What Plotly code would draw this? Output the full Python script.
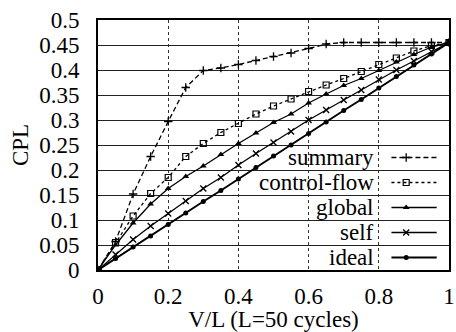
import plotly.graph_objects as go

# ---- data ----
vl = [0.0, 0.05, 0.1, 0.15, 0.2, 0.25, 0.3, 0.35, 0.4, 0.45, 0.5,
      0.55, 0.6, 0.65, 0.7, 0.75, 0.8, 0.85, 0.9, 0.95, 1.0]
summary = [0, .057, .152, .227, .297, .365, .399, .404, .411, .419, .427,
           .434, .443, .452, .455, .455, .455, .455, .455, .455, .455]
control_flow = [0, .055, .108, .153, .185, .227, .253, .275, .293, .312, .328,
                .342, .357, .370, .383, .397, .411, .424, .438, .449, .455]
global_ = [0, .050, .094, .132, .163, .187, .208, .231, .253, .274, .295,
           .312, .334, .352, .369, .383, .399, .416, .431, .446, .455]
self_ = [0, .031, .061, .088, .113, .138, .163, .185, .210, .233, .255,
         .277, .300, .320, .340, .360, .381, .400, .418, .437, .455]
ideal = [0, .023, .046, .068, .091, .114, .137, .159, .182, .205, .228,
         .250, .273, .296, .319, .341, .364, .387, .410, .432, .455]

series_names = ["summary", "control-flow", "global", "self", "ideal"]
x_ticks = [0, 0.2, 0.4, 0.6, 0.8, 1]
x_ticktext = ["0", "0.2", "0.4", "0.6", "0.8", "1"]

FONT = "Liberation Serif"
TXT = dict(family=FONT, size=23, color="black")

styles = {
    "summary": dict(dash="5px,3px", width=1.3, symbol="cross-thin", size=6, mline=1.3),
    "control-flow": dict(dash="dot", width=1.3, symbol="square-open", size=6, mline=1.2),
    "global": dict(dash="solid", width=1.3, symbol="triangle-up", size=6, mline=0),
    "self": dict(dash="solid", width=1.3, symbol="x-thin", size=6, mline=1.3),
    "ideal": dict(dash="solid", width=2.0, symbol="circle", size=5, mline=0),
}
values = {"summary": summary, "control-flow": control_flow, "global": global_,
          "self": self_, "ideal": ideal}

fig = go.Figure()
for name in series_names:
    st = styles[name]
    fig.add_trace(go.Scatter(
        x=vl, y=values[name], mode="lines+markers", showlegend=False,
        line=dict(color="black", width=st["width"], dash=st["dash"]),
        marker=dict(symbol=st["symbol"], size=st["size"], color="black",
                    line=dict(color="black", width=st["mline"])),
    ))

# legend (gnuplot-style: text right-aligned, key sample on the right)
row_y = [0.225, 0.175, 0.125, 0.075, 0.025]
key_x0, key_xm, key_x1, text_x = 0.836, 0.878, 0.965, 0.792
for name, ry in zip(series_names, row_y):
    st = styles[name]
    fig.add_trace(go.Scatter(
        x=[key_x0, key_x1], y=[ry, ry], mode="lines", showlegend=False,
        line=dict(color="black", width=st["width"], dash=st["dash"]),
        hoverinfo="skip"))
    fig.add_trace(go.Scatter(
        x=[key_xm], y=[ry], mode="markers", showlegend=False,
        marker=dict(symbol=st["symbol"], size=st["size"], color="black",
                    line=dict(color="black", width=st["mline"])),
        hoverinfo="skip"))
    fig.add_annotation(x=text_x, y=ry, text=name, showarrow=False,
                       xanchor="right", yanchor="middle", font=TXT)

fig.update_layout(
    width=456, height=332,
    margin=dict(l=98, r=1, t=20, b=62),
    paper_bgcolor="white", plot_bgcolor="white",
    font=TXT,
)
fig.update_xaxes(
    range=[0, 1], tickvals=x_ticks, ticktext=x_ticktext, tickfont=TXT,
    showgrid=True, gridcolor="#333", gridwidth=1, griddash="dot",
    showline=True, linecolor="black", linewidth=2, mirror=True,
    ticks="", zeroline=False, ticklabelstandoff=4, ticklabeloverflow="allow",
    title=dict(text="V/L (L=50 cycles)", standoff=0, font=TXT),
)
fig.update_yaxes(
    range=[0, 0.5], dtick=0.05, tick0=0, tickfont=TXT,
    showgrid=True, gridcolor="#222", gridwidth=1.2,
    showline=True, linecolor="black", linewidth=2, mirror=True,
    ticks="", zeroline=False, ticklabelstandoff=12, ticklabeloverflow="allow",
    title=dict(text="CPL", standoff=4, font=TXT),
)

fig.write_html("out.html")
